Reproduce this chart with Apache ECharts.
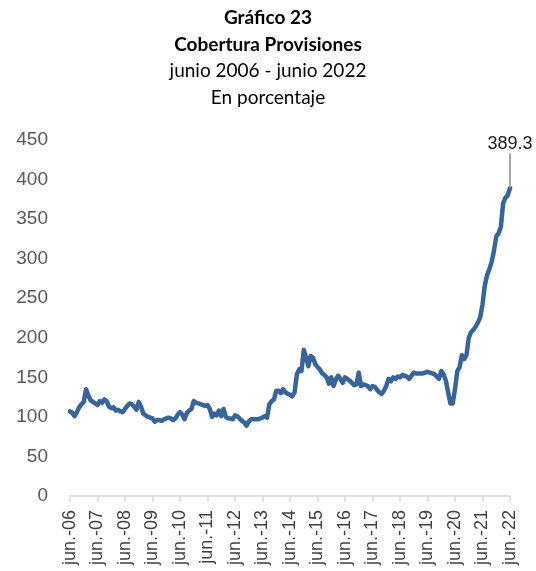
<!DOCTYPE html>
<html>
<head>
<meta charset="utf-8">
<script src="https://cdn.jsdelivr.net/npm/echarts@6/dist/echarts.min.js"></script>
<style>
html,body{margin:0;padding:0;background:#fff;}
#chart{width:536px;height:571px;}
</style>
</head>
<body>
<div id="chart"></div>
<script>
// Month abbreviations and the year span of the series (monthly, jun-2006 .. jun-2022)
var monthNames = ['ene.','feb.','mar.','abr.','may.','jun.','jul.','ago.','sep.','oct.','nov.','dic.'];
var startYear = 2006, startMonth = 5; // June 2006

// Cobertura de provisiones (%), monthly values
var values2006_2010 = [
  107,105,101,106,112,116,119,135,127,121,119,117,
  115,120,118,122,120,113,111,112,108,109,107,106,
  110,114,117,116,113,109,119,113,104,102,100,99,
  98,94,96,96,95,97,98,99,98,96,98,103
];
var values2010_2014 = [
  106,103,97,105,108,110,120,118,117,116,115,114,
  115,110,100,104,102,108,101,110,100,98,98,97,
  102,101,98,95,93,89,94,97,97,97,97,98,
  99,101,99,116,120,122,133,133,130,135,131,129
];
var values2014_2018 = [
  128,126,131,154,160,158,185,175,164,177,175,167,
  163,160,155,153,150,142,150,139,147,152,148,143,
  150,148,146,143,140,141,156,139,141,140,139,135,
  139,138,134,131,129,133,139,148,145,150,148,151
];
var values2018_2022 = [
  150,153,152,151,148,152,156,155,155,155,155,156,
  157,156,155,154,151,148,158,154,146,131,117,117,
  135,158,163,178,173,178,200,207,210,214,219,226,
  242,266,279,287,296,310,328,332,340,370,377,380,
  389.3
];

var seriesValues = [].concat(values2006_2010, values2010_2014, values2014_2018, values2018_2022);
var categories = seriesValues.map(function(_, i){
  var m = (startMonth + i) % 12;
  var y = startYear + Math.floor((startMonth + i) / 12);
  return monthNames[m] + '-' + String(y).slice(2);
});
var lastLabel = '389.3';

var titleLines = ['Gráfico 23', 'Cobertura Provisiones', 'junio 2006 - junio 2022', 'En porcentaje'];
var yTicks = {min: 0, max: 450, interval: 50};

var chart = echarts.init(document.getElementById('chart'), null, {renderer: 'canvas'});
var lastIdx = seriesValues.length - 1;
var dataItems = seriesValues.map(function(v, i){
  if (i === lastIdx) {
    return {value: v, label: {show: true, formatter: lastLabel}, labelLine: {show: true}};
  }
  return v;
});

chart.setOption({
  animation: false,
  backgroundColor: '#ffffff',
  title: {
    left: 'center',
    top: 0,
    text: '{b|' + titleLines[0] + '}\n{b|' + titleLines[1] + '}\n{n|' + titleLines[2] + '}\n{n|' + titleLines[3] + '}',
    textStyle: {
      rich: {
        b: {fontFamily: 'Lato', fontWeight: 'bold', fontSize: 19, lineHeight: 26.5, color: '#000'},
        n: {fontFamily: 'Lato', fontWeight: 'normal', fontSize: 19, lineHeight: 26.5, color: '#000'}
      }
    }
  },
  grid: {left: 70, right: 26, top: 140, bottom: 75, containLabel: false},
  xAxis: {
    type: 'category',
    data: categories,
    boundaryGap: false,
    axisLine: {show: true, lineStyle: {color: '#d9d9d9', width: 1.5}},
    axisTick: {show: true, interval: 11, length: 6, lineStyle: {color: '#d9d9d9', width: 1.5}},
    axisLabel: {
      interval: 11,
      rotate: 90,
      margin: 14,
      fontFamily: 'Liberation Sans',
      fontSize: 18,
      color: '#404040'
    },
    splitLine: {show: false}
  },
  yAxis: {
    type: 'value',
    min: yTicks.min,
    max: yTicks.max,
    interval: yTicks.interval,
    axisLine: {show: false},
    axisTick: {show: false},
    splitLine: {show: false},
    axisLabel: {
      margin: 22,
      fontFamily: 'Liberation Sans',
      fontSize: 19,
      color: '#595959'
    }
  },
  series: [{
    type: 'line',
    data: dataItems,
    showSymbol: true,
    symbol: 'circle',
    symbolSize: 1,
    lineStyle: {color: '#37649a', width: 4.5, join: 'round', cap: 'round'},
    itemStyle: {color: 'rgba(55,100,154,0)', borderWidth: 0},
    label: {
      show: false,
      position: 'top',
      distance: 4,
      fontFamily: 'Liberation Sans',
      fontSize: 18,
      color: '#1a1a1a',
      opacity: 1
    },
    labelLine: {show: false, lineStyle: {color: '#a6a6a6', width: 2}},
    labelLayout: function(params){
      return {dy: -30, dx: 0};
    }
  }]
});
</script>
</body>
</html>
